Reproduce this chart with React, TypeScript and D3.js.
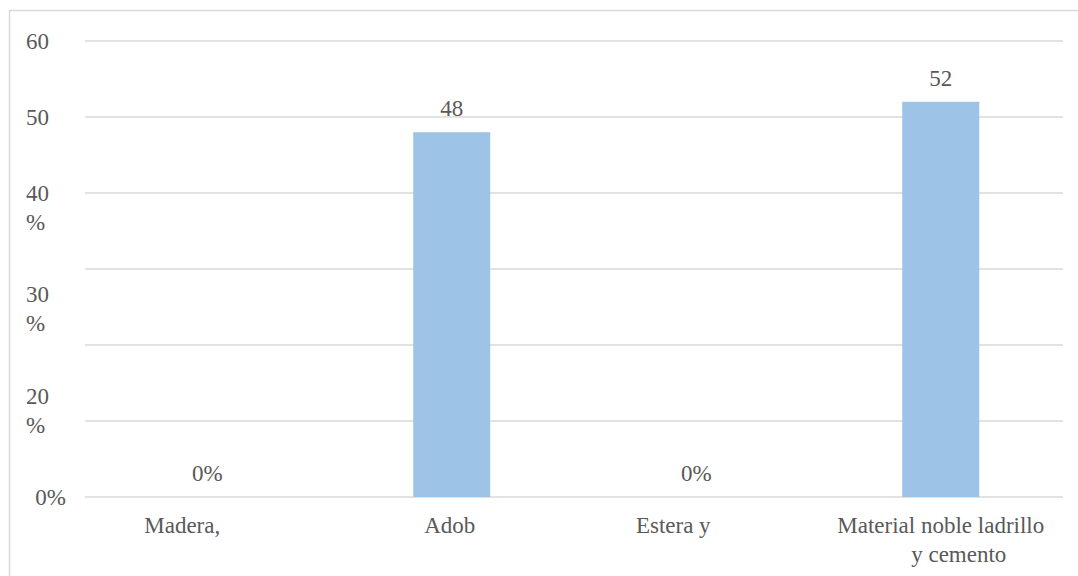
import React from "react";
import * as d3 from "d3";

const categories = ["Madera,", "Adob", "Estera y", "Material noble ladrillo\ny cemento"];
const values = [0, 48, 0, 52];
const valueLabels = ["0%", "48", "0%", "52"];
const gridTicks = [0, 10, 20, 30, 40, 50, 60];
const upperTickLabels = [
  { v: 60, text: "60" },
  { v: 50, text: "50" },
];
const lowerTickLabels = ["40\n%", "30\n%", "20\n%", "0%"];

const W = 1078;
const H = 576;
const FONT = "'Liberation Serif', 'Times New Roman', serif";
const TEXT = "#595959";
const GRID = "#d9d9d9";
const BAR = "#9dc3e6";
const FS = 23;
const LH = 29;

// label horizontal nudges (layout, not data)
const xLabelShift = [[-25], [-2], [-23], [0, 18]];

export default function App() {
  const x = d3.scaleBand<string>().domain(categories).range([85, 1063]).paddingInner(0.685).paddingOuter(0.3425);
  const y = d3.scaleLinear().domain([0, 60]).range([497, 41]);
  const lowerPos = d3.scaleLinear().domain([0, lowerTickLabels.length - 1]).range([y(40), y(0)]);

  return (
    <svg width={W} height={H} style={{ position: "absolute", left: 0, top: 0, background: "#fff" }}>
      <rect x={9.5} y={10.5} width={1100} height={600} fill="#fff" stroke={GRID} strokeWidth={1.5} />
      {gridTicks.map((t) => (
        <line key={t} x1={85} x2={1063} y1={y(t)} y2={y(t)} stroke={GRID} strokeWidth={1.5} />
      ))}
      {categories.map((c, i) => (
        <rect key={c} x={x(c)} y={y(values[i])} width={x.bandwidth()} height={y(0) - y(values[i])} fill={BAR} />
      ))}
      {categories.map((c, i) => (
        <text key={"v" + i} x={(x(c) ?? 0) + x.bandwidth() / 2} y={y(values[i]) - 16} textAnchor="middle"
          fontFamily={FONT} fontSize={FS} fill={TEXT}>{valueLabels[i]}</text>
      ))}
      {upperTickLabels.map((d) => (
        <text key={d.v} x={26} y={y(d.v) + 8} fontFamily={FONT} fontSize={FS} fill={TEXT}>{d.text}</text>
      ))}
      {lowerTickLabels.map((l, i) => {
        const lines = l.split("\n");
        const single = lines.length === 1;
        return (
          <text key={l} x={single ? 66 : 26} y={lowerPos(i) + 8} textAnchor={single ? "end" : "start"}
            fontFamily={FONT} fontSize={FS} fill={TEXT}>
            {lines.map((s, j) => (
              <tspan key={j} x={single ? 66 : 26} dy={j === 0 ? 0 : LH}>{s}</tspan>
            ))}
          </text>
        );
      })}
      {categories.map((c, i) => {
        const cx = (x(c) ?? 0) + x.bandwidth() / 2;
        const lines = c.split("\n");
        return (
          <text key={"x" + i} y={533} textAnchor="middle" fontFamily={FONT} fontSize={FS} fill={TEXT}>
            {lines.map((s, j) => (
              <tspan key={j} x={cx + (xLabelShift[i][j] ?? 0)} dy={j === 0 ? 0 : LH}>{s}</tspan>
            ))}
          </text>
        );
      })}
    </svg>
  );
}
